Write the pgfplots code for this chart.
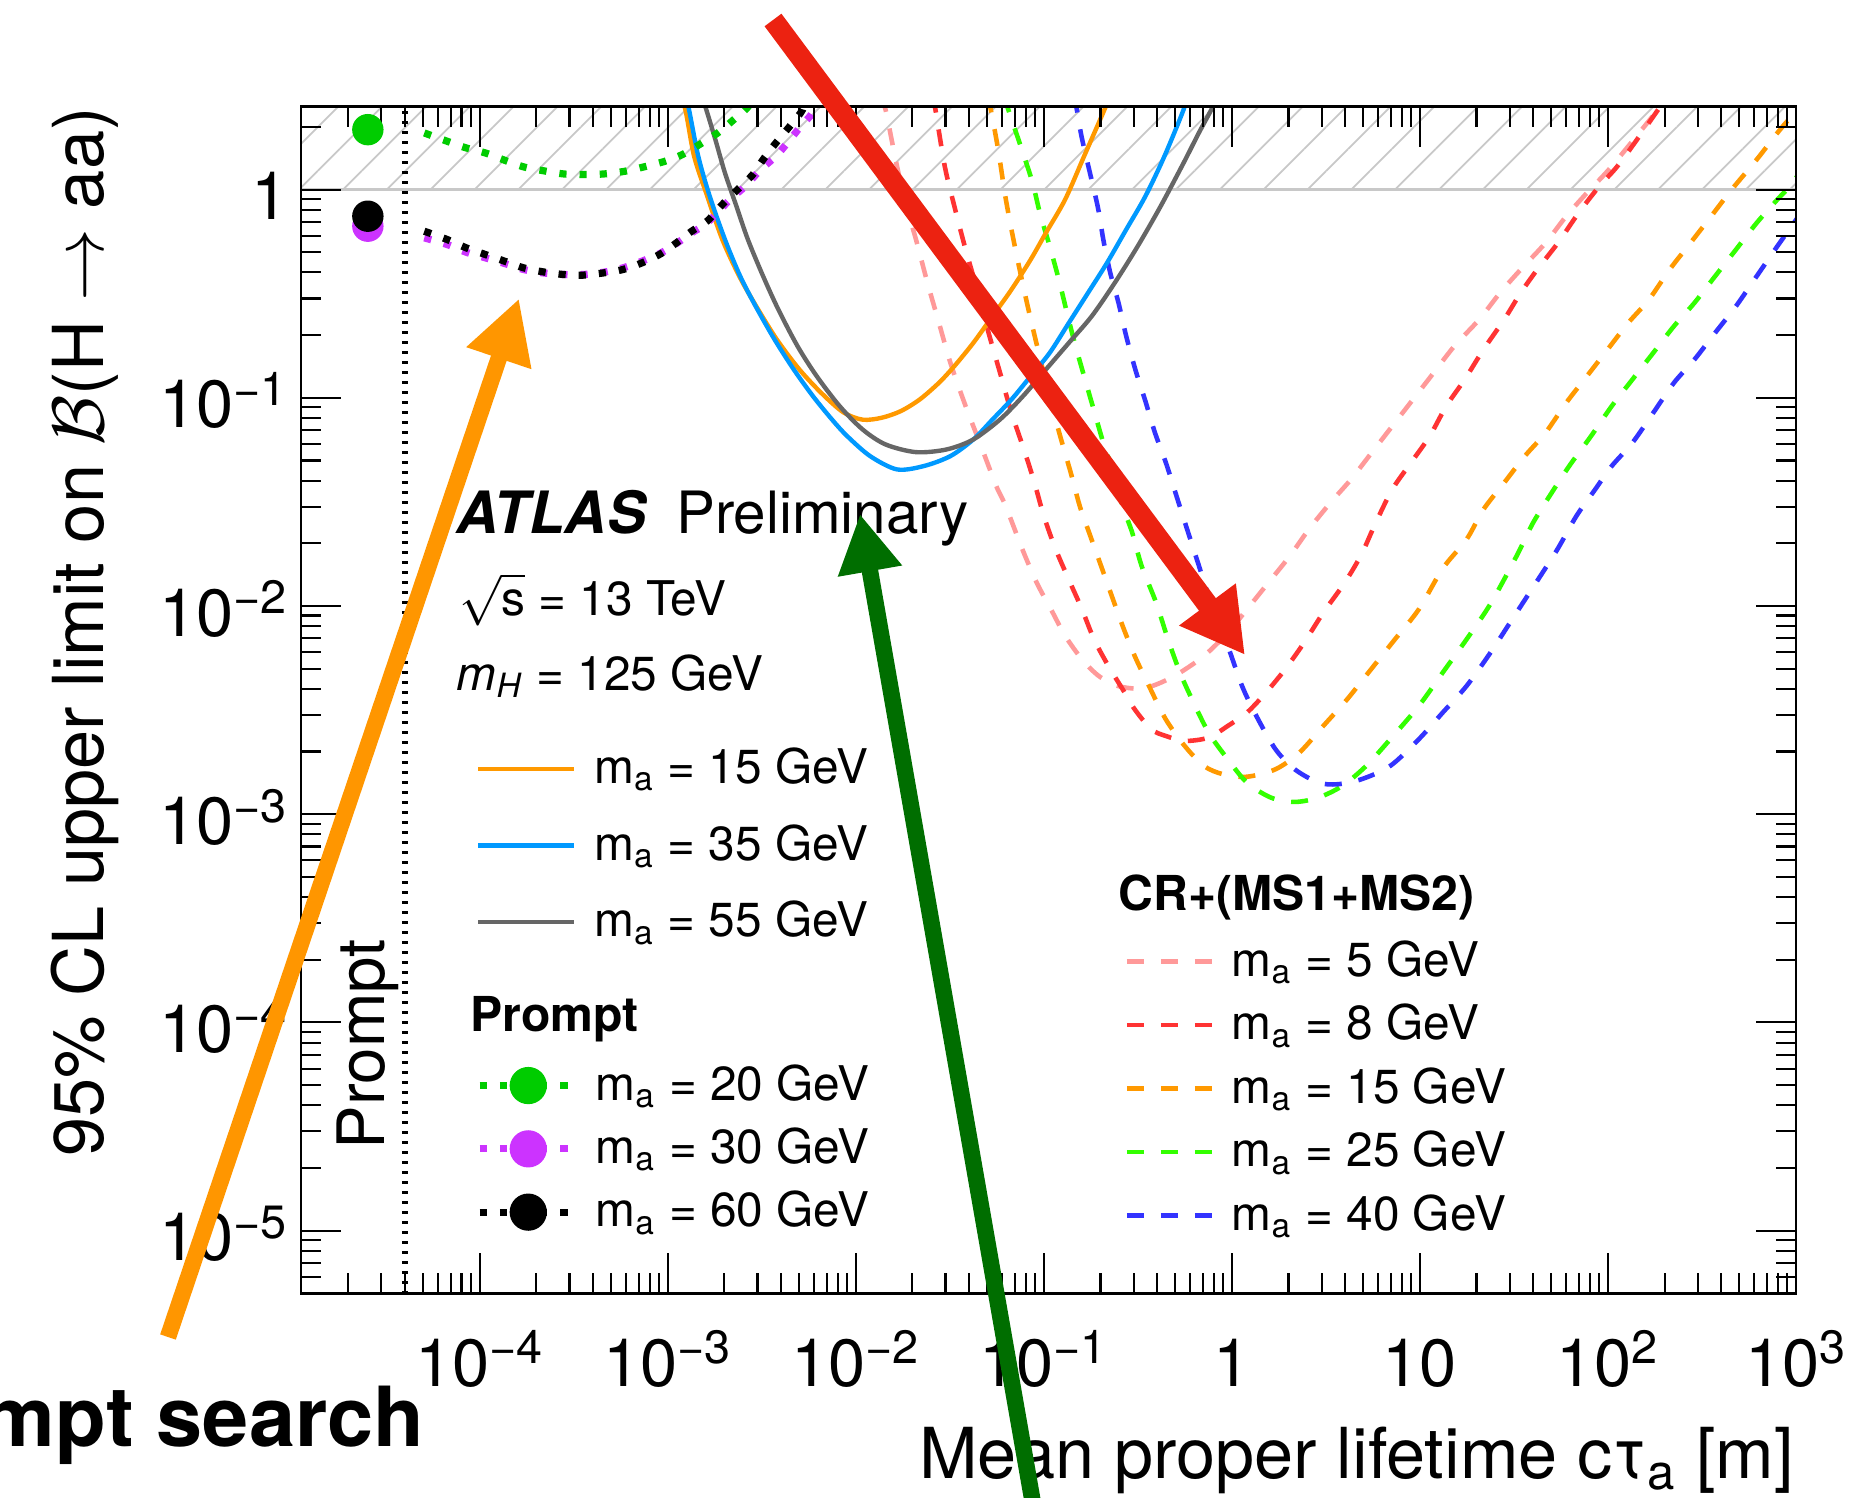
\documentclass[border=0pt]{standalone}
\usepackage{pgfplots}
\pgfplotsset{compat=1.18}
\usepackage{pgfplotstable}
\usepackage{fontspec}
\setmainfont{TeX Gyre Heros}
\usetikzlibrary{patterns.meta,arrows.meta}

\definecolor{sorange}{RGB}{255,153,0}
\definecolor{sblue}{RGB}{0,153,255}
\definecolor{sgray}{RGB}{102,102,102}
\definecolor{pgreen}{RGB}{0,204,0}
\definecolor{pmag}{RGB}{204,51,255}
\definecolor{dpink}{RGB}{255,153,153}
\definecolor{dred}{RGB}{255,51,51}
\definecolor{dorange}{RGB}{255,153,0}
\definecolor{dgreen}{RGB}{51,255,0}
\definecolor{dblue}{RGB}{51,51,255}
\definecolor{hatchgray}{RGB}{200,200,200}
\definecolor{arrorange}{RGB}{255,150,0}
\definecolor{arrred}{RGB}{236,34,17}
\definecolor{arrgreen}{RGB}{0,110,0}

% ---- solid curves (log10 x, log10 y) ----
\pgfplotstableread{
lx ly
-2.95 0.45
-2.909 0.392
-2.860 0.160
-2.790 -0.032
-2.710 -0.240
-2.620 -0.416
-2.530 -0.560
-2.420 -0.720
-2.300 -0.864
-2.180 -0.980
-2.066 -1.070
-1.964 -1.105
-1.863 -1.096
-1.761 -1.064
-1.660 -1.008
-1.558 -0.928
-1.476 -0.848
-1.375 -0.736
-1.273 -0.608
-1.172 -0.480
-1.070 -0.336
-0.989 -0.208
-0.887 -0.048
-0.786 0.160
-0.724 0.288
-0.674 0.392
-0.650 0.45
}\solA
\pgfplotstableread{
lx ly
-2.91 0.45
-2.889 0.392
-2.838 0.160
-2.777 -0.032
-2.696 -0.240
-2.615 -0.416
-2.533 -0.560
-2.432 -0.720
-2.330 -0.864
-2.228 -0.992
-2.127 -1.104
-2.046 -1.184
-1.924 -1.280
-1.781 -1.344
-1.639 -1.328
-1.497 -1.280
-1.375 -1.200
-1.273 -1.104
-1.172 -1.008
-1.070 -0.896
-0.969 -0.784
-0.867 -0.640
-0.765 -0.496
-0.664 -0.352
-0.562 -0.192
-0.460 -0.032
-0.359 0.160
-0.257 0.384
-0.240 0.45
}\solB
\pgfplotstableread{
lx ly
-2.82 0.45
-2.798 0.392
-2.747 0.240
-2.696 0.080
-2.635 -0.080
-2.574 -0.240
-2.493 -0.416
-2.412 -0.576
-2.310 -0.752
-2.208 -0.896
-2.086 -1.040
-1.964 -1.152
-1.842 -1.224
-1.680 -1.261
-1.517 -1.248
-1.375 -1.200
-1.233 -1.104
-1.111 -0.992
-0.989 -0.864
-0.867 -0.736
-0.745 -0.608
-0.623 -0.448
-0.501 -0.272
-0.379 -0.080
-0.257 0.128
-0.176 0.272
-0.105 0.392
-0.080 0.45
}\solC

% ---- prompt curves ----
\pgfplotstableread{
lx ly
-4.295 0.272
-4.173 0.232
-4.072 0.200
-3.970 0.176
-3.868 0.141
-3.767 0.109
-3.665 0.091
-3.553 0.075
-3.441 0.072
-3.340 0.075
-3.228 0.088
-3.127 0.109
-3.015 0.136
-2.923 0.168
-2.832 0.216
-2.730 0.275
-2.649 0.336
-2.578 0.392
-2.540 0.45
}\prA
\pgfplotstableread{
lx ly
-4.295 -0.232
-4.173 -0.264
-4.072 -0.301
-3.970 -0.328
-3.868 -0.355
-3.767 -0.384
-3.665 -0.400
-3.553 -0.408
-3.451 -0.408
-3.340 -0.397
-3.238 -0.376
-3.137 -0.344
-3.035 -0.304
-2.954 -0.259
-2.873 -0.208
-2.791 -0.160
-2.669 -0.048
-2.588 0.016
-2.506 0.096
-2.425 0.160
-2.364 0.224
-2.293 0.304
-2.232 0.368
-2.210 0.45
}\prB
\pgfplotstableread{
lx ly
-4.295 -0.200
-4.173 -0.240
-4.072 -0.280
-3.970 -0.312
-3.868 -0.344
-3.767 -0.376
-3.665 -0.395
-3.553 -0.408
-3.451 -0.411
-3.340 -0.400
-3.238 -0.384
-3.137 -0.352
-3.035 -0.307
-2.954 -0.256
-2.873 -0.200
-2.791 -0.152
-2.710 -0.072
-2.629 0.000
-2.548 0.072
-2.487 0.152
-2.425 0.224
-2.344 0.312
-2.283 0.384
-2.270 0.45
}\prC

% ---- CR+(MS1+MS2) dashed curves ----
\pgfplotstableread{
lx ly
-1.870 0.45
-1.842 0.384
-1.792 0.160
-1.741 -0.048
-1.680 -0.240
-1.619 -0.448
-1.558 -0.640
-1.497 -0.832
-1.416 -1.040
-1.334 -1.232
-1.253 -1.424
-1.203 -1.520
-1.114 -1.728
-1.038 -1.888
-0.962 -2.016
-0.886 -2.144
-0.797 -2.256
-0.708 -2.336
-0.606 -2.384
-0.480 -2.397
-0.378 -2.368
-0.276 -2.320
-0.149 -2.240
-0.022 -2.128
0.080 -2.016
0.194 -1.888
0.308 -1.760
0.409 -1.632
0.524 -1.504
0.633 -1.392
0.743 -1.264
0.853 -1.136
0.963 -1.008
1.073 -0.880
1.183 -0.752
1.315 -0.624
1.426 -0.496
1.536 -0.384
1.668 -0.256
1.778 -0.128
1.888 -0.016
2.020 0.112
2.273 0.392
2.320 0.45
}\crA
\pgfplotstableread{
lx ly
-1.590 0.45
-1.578 0.392
-1.527 0.112
-1.476 -0.080
-1.416 -0.288
-1.355 -0.480
-1.294 -0.688
-1.233 -0.880
-1.172 -1.072
-1.100 -1.264
-1.050 -1.408
-1.000 -1.568
-0.937 -1.728
-0.860 -1.888
-0.797 -2.016
-0.733 -2.160
-0.657 -2.288
-0.581 -2.400
-0.517 -2.496
-0.429 -2.592
-0.352 -2.624
-0.251 -2.648
-0.124 -2.632
-0.022 -2.576
0.080 -2.512
0.181 -2.416
0.283 -2.304
0.384 -2.176
0.486 -2.032
0.600 -1.888
0.689 -1.752
0.765 -1.600
0.853 -1.440
0.952 -1.312
1.052 -1.184
1.140 -1.040
1.238 -0.912
1.338 -0.768
1.448 -0.624
1.536 -0.496
1.624 -0.384
1.734 -0.256
1.844 -0.112
1.954 0.016
2.064 0.128
2.273 0.392
2.310 0.45
}\crB
\pgfplotstableread{
lx ly
-1.300 0.45
-1.284 0.392
-1.243 0.192
-1.202 -0.048
-1.151 -0.288
-1.090 -0.544
-1.040 -0.736
-0.979 -0.960
-0.918 -1.168
-0.857 -1.360
-0.809 -1.520
-0.759 -1.648
-0.708 -1.776
-0.645 -1.936
-0.581 -2.096
-0.517 -2.240
-0.441 -2.384
-0.352 -2.544
-0.251 -2.672
-0.149 -2.768
-0.047 -2.808
0.080 -2.820
0.232 -2.784
0.359 -2.704
0.486 -2.576
0.613 -2.448
0.740 -2.304
0.867 -2.160
0.994 -2.016
1.121 -1.820
1.248 -1.680
1.338 -1.536
1.448 -1.408
1.558 -1.280
1.668 -1.168
1.778 -1.024
1.888 -0.896
1.998 -0.768
2.108 -0.640
2.218 -0.528
2.328 -0.384
2.439 -0.256
2.549 -0.128
2.658 0.000
2.791 0.144
2.901 0.272
2.989 0.368
3.050 0.45
}\crC
\pgfplotstableread{
lx ly
-1.210 0.45
-1.192 0.392
-1.111 0.176
-1.060 0.032
-1.019 -0.120
-0.969 -0.272
-0.918 -0.440
-0.877 -0.592
-0.836 -0.736
-0.786 -0.896
-0.735 -1.056
-0.684 -1.216
-0.633 -1.352
-0.581 -1.520
-0.530 -1.648
-0.480 -1.808
-0.403 -1.984
-0.340 -2.160
-0.276 -2.320
-0.212 -2.448
-0.124 -2.608
-0.022 -2.736
0.080 -2.848
0.207 -2.920
0.334 -2.941
0.460 -2.920
0.587 -2.864
0.714 -2.768
0.842 -2.640
0.994 -2.480
1.121 -2.320
1.248 -2.160
1.375 -1.990
1.514 -1.760
1.602 -1.600
1.712 -1.440
1.800 -1.320
1.910 -1.184
2.020 -1.040
2.130 -0.912
2.241 -0.784
2.351 -0.656
2.460 -0.544
2.570 -0.416
2.681 -0.288
2.791 -0.160
2.901 -0.048
2.967 0.016
3.050 0.120
}\crD
\pgfplotstableread{
lx ly
-0.840 0.45
-0.826 0.392
-0.796 0.240
-0.714 -0.080
-0.684 -0.240
-0.647 -0.400
-0.603 -0.544
-0.562 -0.704
-0.511 -0.872
-0.460 -1.016
-0.409 -1.168
-0.348 -1.320
-0.289 -1.488
-0.238 -1.632
-0.175 -1.808
-0.124 -1.952
-0.022 -2.192
0.054 -2.384
0.130 -2.528
0.232 -2.688
0.334 -2.784
0.460 -2.848
0.562 -2.856
0.689 -2.832
0.842 -2.768
0.994 -2.640
1.121 -2.512
1.248 -2.384
1.375 -2.224
1.502 -2.048
1.629 -1.872
1.731 -1.728
1.832 -1.568
1.932 -1.440
2.020 -1.328
2.130 -1.216
2.241 -1.072
2.351 -0.928
2.460 -0.816
2.570 -0.688
2.681 -0.560
2.791 -0.416
2.901 -0.272
2.989 -0.160
3.050 -0.080
}\crE

\pgfplotsset{
  geom/.style={scale only axis, width=149.5mm, height=118.66mm},
  legaxis/.style={geom, hide axis, xmin=0, xmax=1, ymin=0, ymax=1,
    legend cell align=left,
    legend style={draw=none, fill=none, inner sep=0pt, outer sep=0pt,
      column sep=0pt, anchor=north west,
      font=\fontsize{13.6}{16}\selectfont,
      nodes={inner sep=0pt, outer sep=0pt, text height=3.6mm, text depth=0.7mm}}},
  prdot/.style={line width=2.05pt, dash pattern=on 0.72mm off 1.3mm},
  crdash/.style={line width=1.3pt, dash pattern=on 1.7mm off 1.7mm},
}
\newcommand{\LX}{10^(\thisrow{lx})}
\newcommand{\LY}{10^(\thisrow{ly})}

\begin{document}
\begin{tikzpicture}
\begin{axis}[
  geom,
  xmode=log, ymode=log,
  xmin=1.12e-5, xmax=1000, ymin=5e-6, ymax=2.5,
  axis on top,
  axis line style={line width=0.8pt},
  tick style={black, line width=0.6pt},
  major tick length=4mm, minor tick length=2mm,
  xtick={1e-4,1e-3,1e-2,1e-1,1,10,100,1000},
  xticklabels={10\textsuperscript{−4},10\textsuperscript{−3},10\textsuperscript{−2},10\textsuperscript{−1},1,10,10\textsuperscript{2},10\textsuperscript{3}},
  minor xtick={2e-5,3e-5,4e-5,5e-5,6e-5,7e-5,8e-5,9e-5,
    2e-4,3e-4,4e-4,5e-4,6e-4,7e-4,8e-4,9e-4,
    2e-3,3e-3,4e-3,5e-3,6e-3,7e-3,8e-3,9e-3,
    2e-2,3e-2,4e-2,5e-2,6e-2,7e-2,8e-2,9e-2,
    0.2,0.3,0.4,0.5,0.6,0.7,0.8,0.9,
    2,3,4,5,6,7,8,9,20,30,40,50,60,70,80,90,
    200,300,400,500,600,700,800,900},
  ytick={1e-5,1e-4,1e-3,1e-2,1e-1,1},
  yticklabels={10\textsuperscript{−5},10\textsuperscript{−4},10\textsuperscript{−3},10\textsuperscript{−2},10\textsuperscript{−1},1},
  minor ytick={6e-6,7e-6,8e-6,9e-6,
    2e-5,3e-5,4e-5,5e-5,6e-5,7e-5,8e-5,9e-5,
    2e-4,3e-4,4e-4,5e-4,6e-4,7e-4,8e-4,9e-4,
    2e-3,3e-3,4e-3,5e-3,6e-3,7e-3,8e-3,9e-3,
    2e-2,3e-2,4e-2,5e-2,6e-2,7e-2,8e-2,9e-2,
    0.2,0.3,0.4,0.5,0.6,0.7,0.8,0.9,2},
  tick label style={font=\fontsize{19}{22}\selectfont},
  xticklabel style={anchor=base, yshift=-9.27mm},
  yticklabel style={anchor=base east, yshift=-3mm},
  xlabel={Mean proper lifetime cτ\textsubscript{a} [m]},
  ylabel={95\% CL upper limit on $\mathcal{B}$(H $\rightarrow$ aa)},
  label style={font=\fontsize{20}{23}\selectfont},
  xlabel style={at={(axis description cs:0.999,-0.1557)}, anchor=base east, inner sep=0pt},
  ylabel style={at={(axis description cs:-0.1324,1)}, anchor=base east, inner sep=0pt},
]
% excluded band
\addplot[draw=none, forget plot, pattern={Lines[angle=45,distance=3.1mm,line width=0.5pt]}, pattern color=hatchgray]
  coordinates {(1e-5,1) (1e-5,3) (2000,3) (2000,1)} -- cycle;
\addplot[hatchgray, line width=0.9pt, forget plot] coordinates {(1e-5,1) (2000,1)};
% prompt boundary
\addplot[black, line width=1.6pt, dash pattern=on 0.3mm off 0.7mm, forget plot] coordinates {(4e-5,4e-6) (4e-5,3)};

% CR+(MS1+MS2)
\addplot[dpink, crdash, smooth] table[x expr=\LX, y expr=\LY] {\crA};
\addplot[dred, crdash, smooth] table[x expr=\LX, y expr=\LY] {\crB};
\addplot[dorange, crdash, smooth] table[x expr=\LX, y expr=\LY] {\crC};
\addplot[dgreen, crdash, smooth] table[x expr=\LX, y expr=\LY] {\crD};
\addplot[dblue, crdash, smooth] table[x expr=\LX, y expr=\LY] {\crE};
% solid
\addplot[sorange, line width=1.25pt, smooth] table[x expr=\LX, y expr=\LY] {\solA};
\addplot[sblue, line width=1.25pt, smooth] table[x expr=\LX, y expr=\LY] {\solB};
\addplot[sgray, line width=1.25pt, smooth] table[x expr=\LX, y expr=\LY] {\solC};
% prompt
\addplot[pgreen, prdot, smooth] table[x expr=\LX, y expr=\LY] {\prA};
\addplot[pmag, prdot, smooth] table[x expr=\LX, y expr=\LY] {\prB};
\addplot[black, prdot, smooth] table[x expr=\LX, y expr=\LY] {\prC};
\addplot[pgreen, only marks, mark=*, mark size=1.5mm] coordinates {(2.54e-5,1.94)};
\addplot[pmag, only marks, mark=*, mark size=1.5mm] coordinates {(2.54e-5,0.667)};
\addplot[black, only marks, mark=*, mark size=1.5mm] coordinates {(2.54e-5,0.745)};

\node[inner sep=0pt, anchor=base west, font=\fontsize{16.6}{19}\selectfont] at (axis description cs:0.1037,0.6407) {\textbf{\textit{ATLAS}}\hspace{0.5em}Preliminary};
\node[inner sep=0pt, anchor=base west, font=\fontsize{13.6}{16}\selectfont] at (axis description cs:0.1054,0.5716) {$\sqrt{\mbox{s}}$ = 13 TeV};
\node[inner sep=0pt, anchor=base west, font=\fontsize{13.6}{16}\selectfont] at (axis description cs:0.1037,0.5084) {\textit{m}\textsubscript{\textit{H}} = 125 GeV};
\node[inner sep=0pt, anchor=base west, font=\bfseries\fontsize{13.7}{16}\selectfont] at (axis description cs:0.1128,0.2205) {Prompt};
\node[inner sep=0pt, anchor=base west, font=\bfseries\fontsize{13.7}{16}\selectfont] at (axis description cs:0.5465,0.3230) {CR+(MS1+MS2)};
\node[inner sep=0pt, rotate=90, anchor=base west, font=\fontsize{18.6}{21}\selectfont] at (axis description cs:0.0561,0.1208) {Prompt};
\end{axis}

% legend: solid lines
\begin{axis}[legaxis,
  legend style={at={(axis description cs:0.1171,0.4601)}, row sep=3.37mm},
  legend image code/.code={\draw[#1] (0mm,0mm) -- (9.6mm,0mm); \path[draw=none, fill=none] (0mm,-0.2mm) rectangle (11.6mm,0.2mm);}]
\addlegendimage{sorange, line width=1.25pt}
\addlegendentry{m\textsubscript{a} = 15 GeV}
\addlegendimage{sblue, line width=1.25pt}
\addlegendentry{m\textsubscript{a} = 35 GeV}
\addlegendimage{sgray, line width=1.25pt}
\addlegendentry{m\textsubscript{a} = 55 GeV}
\end{axis}

% legend: prompt
\begin{axis}[legaxis,
  legend style={at={(axis description cs:0.1171,0.1932)}, row sep=2.03mm},
  legend image code/.code={\draw[mark repeat=2, mark phase=2, #1] plot coordinates {(0mm,0mm) (4.86mm,0mm) (9.1mm,0mm)}; \path[draw=none, fill=none] (0mm,-0.2mm) rectangle (11.6mm,0.2mm);}]
\addlegendimage{pgreen, prdot, mark=*, mark size=1.5mm, mark options={solid}}
\addlegendentry{m\textsubscript{a} = 20 GeV}
\addlegendimage{pmag, prdot, mark=*, mark size=1.5mm, mark options={solid}}
\addlegendentry{m\textsubscript{a} = 30 GeV}
\addlegendimage{black, prdot, mark=*, mark size=1.5mm, mark options={solid}}
\addlegendentry{m\textsubscript{a} = 60 GeV}
\end{axis}

% legend: CR+(MS1+MS2)
\begin{axis}[legaxis,
  legend style={at={(axis description cs:0.5509,0.2977)}, row sep=2.05mm},
  legend image code/.code={\draw[#1] (0mm,0mm) -- (8.5mm,0mm); \path[draw=none, fill=none] (0mm,-0.2mm) rectangle (10.5mm,0.2mm);}]
\addlegendimage{dpink, crdash}
\addlegendentry{m\textsubscript{a} = 5 GeV}
\addlegendimage{dred, crdash}
\addlegendentry{m\textsubscript{a} = 8 GeV}
\addlegendimage{dorange, crdash}
\addlegendentry{m\textsubscript{a} = 15 GeV}
\addlegendimage{dgreen, crdash}
\addlegendentry{m\textsubscript{a} = 25 GeV}
\addlegendimage{dblue, crdash}
\addlegendentry{m\textsubscript{a} = 40 GeV}
\end{axis}

% annotation arrows
\draw[arrorange, line width=1.65mm, -{Triangle[length=6.3mm, width=6.4mm]}] (-13.3mm,-4.37mm) -- (21.8mm,99.48mm);
\draw[arrred, line width=2.1mm, -{Triangle[length=6.3mm, width=6.6mm]}] (47.2mm,127.33mm) -- (94.4mm,63.83mm);
\draw[arrgreen, line width=1.65mm, -{Triangle[length=5.8mm, width=6.1mm]}] (73.4mm,-22.17mm) -- (55.9mm,77.93mm);
\node[inner sep=0pt, anchor=base east, font=\bfseries\fontsize{23.6}{28}\selectfont] at (12.4mm,-15.34mm) {Prompt search};

\pgfresetboundingbox
\useasboundingbox (-30.1mm,-20.37mm) rectangle (154.9mm,129.33mm);
\end{tikzpicture}
\end{document}
